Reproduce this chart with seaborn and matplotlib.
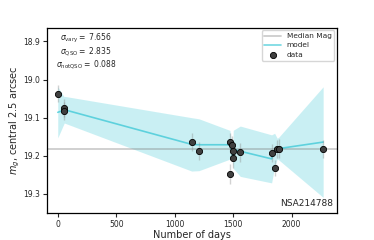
import matplotlib
matplotlib.use("Agg")
import matplotlib.pyplot as plt
import seaborn as sns
import numpy as np
import pandas as pd

# observed light curve (days since first epoch, magnitude, error)
days = [0, 54, 56, 1145, 1208, 1470, 1473, 1493, 1496, 1501, 1561, 1829, 1855, 1877, 1891, 2270]
mag = [19.037, 19.074, 19.083, 19.164, 19.187, 19.247, 19.165, 19.171, 19.207, 19.188,
       19.191, 19.192, 19.232, 19.182, 19.181, 19.182]
mag_err = [0.022, 0.024, 0.024, 0.024, 0.024, 0.026, 0.024, 0.024, 0.024, 0.024,
           0.024, 0.024, 0.022, 0.024, 0.024, 0.024]

# model mean and 1-sigma width at each epoch
model_mean = [19.086, 19.080, 19.079, 19.170, 19.171, 19.171, 19.170, 19.195, 19.208, 19.183,
              19.188, 19.208, 19.185, 19.181, 19.181, 19.164]
model_std = [0.067, 0.035, 0.035, 0.070, 0.068, 0.038, 0.036, 0.015, 0.012, 0.050,
             0.066, 0.063, 0.044, 0.027, 0.030, 0.145]

median_mag = 19.182
sigma_vary = 7.656
sigma_qso = 2.835
sigma_notqso = 0.088
obj_name = "NSA214788"

sns.set_style("ticks")
plt.rcParams['font.family'] = ['DejaVu Sans']

df = pd.DataFrame({"days": days, "mag": mag, "err": mag_err,
                   "mean": model_mean, "std": model_std})

fig = plt.figure(figsize=(3.74, 2.40), dpi=100)
ax = fig.add_axes([0.126, 0.1125, 0.774, 0.7705])

band_color = sns.color_palette("tab10")[9]

ax.axhline(median_mag, color="grey", alpha=0.4, lw=1.3, label="Median Mag", zorder=1)
ax.fill_between(df["days"], df["mean"] - df["std"], df["mean"] + df["std"],
                color=band_color, alpha=0.23, lw=0, zorder=0)
sns.lineplot(data=df, x="days", y="mean", ax=ax, color=band_color, alpha=0.6,
             lw=1.2, label="model", zorder=2, sort=False)
ax.errorbar(df["days"], df["mag"], yerr=df["err"], fmt="none", ecolor="grey",
            alpha=0.35, elinewidth=1.0, zorder=3)
sns.scatterplot(data=df, x="days", y="mag", ax=ax, color="0.25", edgecolor="k",
                linewidth=0.6, s=20, label="data", zorder=4)

ax.set_xlim(-91, 2385)
ax.set_ylim(19.35, 18.865)
ax.set_xticks([0, 500, 1000, 1500, 2000])
ax.set_yticks([18.9, 19.0, 19.1, 19.2, 19.3])
ax.tick_params(labelsize=5.5, length=3, width=0.8, pad=2)
for sp in ax.spines.values():
    sp.set_linewidth(0.9)
    sp.set_color("k")

ax.set_xlabel("Number of days", fontsize=7, labelpad=1)
ax.set_ylabel("$m_g$, central 2.5 arcsec", fontsize=7, labelpad=1)

txt = (r"$\sigma_{\rm vary} = $ " + f"{sigma_vary:.3f}\n"
       + r"$\sigma_{\rm QSO} = $ " + f"{sigma_qso:.3f}\n"
       + r"$\sigma_{\rm notQSO} = $ " + f"{sigma_notqso:.3f}")
ax.text(0.135, 0.874, txt, transform=ax.transAxes, ha="center", va="center",
        multialignment="center", fontsize=5.5, linespacing=1.0)
ax.text(0.988, 0.054, obj_name, transform=ax.transAxes, ha="right", va="center",
        fontsize=6.5)

ax.legend(loc="upper right", fontsize=5.3, frameon=True, borderaxespad=0.3,
          handlelength=2.2, labelspacing=0.4)

fig.savefig("out.png", dpi=100)
